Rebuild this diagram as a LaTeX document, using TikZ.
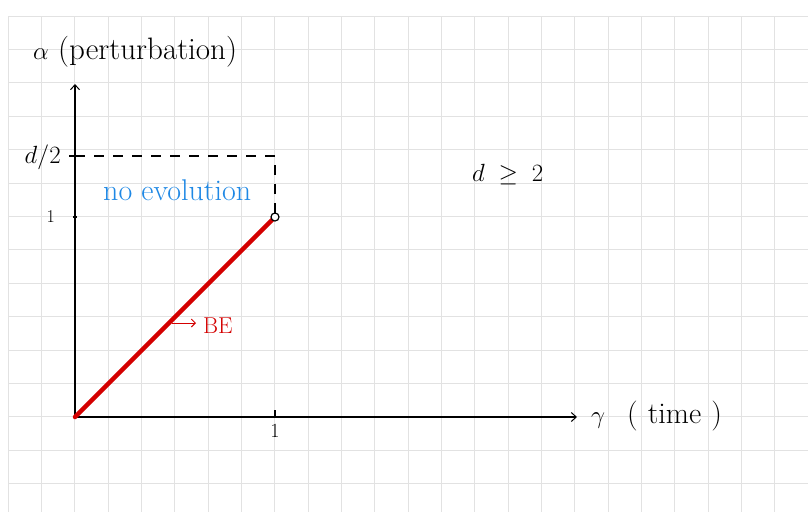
\documentclass[tikz,border=0pt]{standalone}
\usetikzlibrary{arrows.meta}
\definecolor{gridgray}{HTML}{E2E2E2}
\definecolor{penred}{HTML}{D40000}
\definecolor{penblue}{HTML}{1E88E5}
\begin{document}
\begin{tikzpicture}[x=1pt,y=-1pt,
  axis/.style={line width=1.3pt,black,-{Straight Barb[length=5pt,width=9pt,line width=1pt]}},
  tick/.style={line width=1.5pt,black},
  lbl/.style={inner sep=0pt,anchor=west,font=\fontsize{20}{24}\selectfont},
  big/.style={font=\fontsize{30}{36}\selectfont}]
\useasboundingbox (0,0) rectangle (808,512);
\fill[white] (0,0) rectangle (808,512);
% grid
\foreach \i in {0,...,24} \draw[gridgray,line width=1pt] ({8.33+33.33*\i},16) -- ({8.33+33.33*\i},512);
\foreach \j in {0,...,14} \draw[gridgray,line width=1pt] (8.33,{16+33.4*\j}) -- (808,{16+33.4*\j});
% coordinates
\coordinate (O) at (75,417);
\coordinate (ytop) at (75,84);
\coordinate (xend) at (577,417);
\coordinate (P) at (275,217);
\coordinate (Dl) at (75,156);
\coordinate (Dr) at (275,156);
\coordinate (Pt) at (275,213);
% axes
\draw[axis] (O) -- (ytop);
\draw[axis] (O) -- (xend);
% dashed box
\draw[line width=1.3pt,dash pattern=on 10pt off 9pt] (Dl) -- (Dr) -- (Pt);
% ticks
\coordinate (t1a) at (69,156); \coordinate (t1b) at (75,156);
\draw[tick] (t1a) -- (t1b);
\coordinate (t2a) at (73,217); \coordinate (t2b) at (77,217);
\draw[tick] (t2a) -- (t2b);
\coordinate (t3a) at (275,410); \coordinate (t3b) at (275,417);
\draw[tick] (t3a) -- (t3b);
% red line
\draw[penred,line width=4.5pt,line cap=round] (O) -- (P);
\node[draw=black,line width=1.2pt,circle,minimum size=8pt,inner sep=0pt,fill=white] (pc) at (P) {};
% labels
\node[lbl,font=\fontsize{31}{36}\selectfont] (ylab) at (33,52) {$\alpha$ (perturbation)};
\node[lbl,anchor=east,font=\fontsize{23}{28}\selectfont] (d2) at (61,157) {$d/2$};
\node[lbl,anchor=east,font=\fontsize{18}{22}\selectfont] (one) at (55,217) {1};
\node[lbl,anchor=north] (xone) at (275,424) {1};
\node[lbl,big,text=penblue] (noev) at (103,190) {no evolution};
\node[lbl,font=\fontsize{27}{32}\selectfont] (dge) at (472,175) {$d\;\geq\;2$};
\node[lbl,text=penred,font=\fontsize{23}{28}\selectfont] (be) at (203,326) {BE};
\coordinate (bea) at (172,323);
\coordinate (beb) at (196,323);
\draw[penred,line width=1pt,-{Straight Barb[length=4pt,width=8pt]}] (bea) -- (beb);
\node[lbl,big] (xlab) at (591,416) {$\gamma$\hspace{22pt}(\hspace{10pt}time\hspace{10pt})};
\end{tikzpicture}
\end{document}
